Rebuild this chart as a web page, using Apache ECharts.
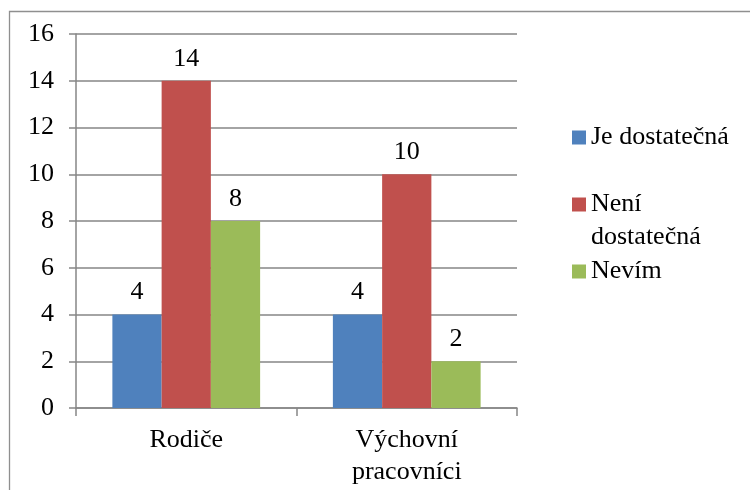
<!DOCTYPE html>
<html>
<head>
<meta charset="utf-8">
<script src="https://cdn.jsdelivr.net/npm/echarts@6/dist/echarts.min.js"></script>
<style>
  html, body { margin: 0; padding: 0; background: #fff; }
  #chart { width: 750px; height: 490px; }
</style>
</head>
<body>
<div id="chart"></div>
<script>
// Categories, series and axis values
const categories = ['Rodiče', 'Výchovní pracovníci'];
const seriesNames = ['Je dostatečná', 'Není dostatečná', 'Nevím'];
const jeDostatecna = [4, 4];
const neniDostatecna = [14, 10];
const nevim = [8, 2];
const yMin = 0;
const yMax = 16;
const yStep = 2;

const colors = ['#4F81BD', '#C0504D', '#9BBB59'];
const fontFamily = '"Liberation Serif", "Times New Roman", serif';
const fontSize = 26;
const axisGray = '#868686';

const chart = echarts.init(document.getElementById('chart'), null, { renderer: 'canvas' });

function barSeries(name, values, color) {
  return {
    name: name,
    type: 'bar',
    data: values,
    barGap: '0%',
    barCategoryGap: '33%',
    itemStyle: { color: color },
    label: {
      show: true,
      position: 'top',
      distance: 9,
      color: '#000',
      fontFamily: fontFamily,
      fontSize: fontSize
    }
  };
}

chart.setOption({
  animation: false,
  backgroundColor: '#fff',
  textStyle: { fontFamily: fontFamily },
  graphic: [{
    type: 'rect',
    shape: { x: 9.5, y: 11.5, width: 800, height: 600 },
    style: { fill: 'none', stroke: '#8f8f8f', lineWidth: 1.3 },
    silent: true
  }],
  grid: { left: 76, right: 233, top: 34, bottom: 82, containLabel: false },
  legend: {
    orient: 'vertical',
    left: 567,
    top: 116,
    padding: 5,
    itemWidth: 14,
    itemHeight: 14,
    itemGap: 1,
    icon: 'rect',
    data: seriesNames,
    formatter: function (name) {
      // second entry wraps onto two lines, with its first line beside the icon
      return name === 'Není dostatečná' ? ' \nNení\ndostatečná' : name;
    },
    textStyle: {
      color: '#000',
      fontFamily: fontFamily,
      fontSize: fontSize,
      lineHeight: 33
    }
  },
  xAxis: {
    type: 'category',
    data: categories,
    axisLine: { show: true, lineStyle: { color: axisGray, width: 1.5 } },
    axisTick: { show: true, length: 8, lineStyle: { color: axisGray, width: 1.5 } },
    axisLabel: {
      color: '#000',
      fontFamily: fontFamily,
      fontSize: fontSize,
      lineHeight: 32,
      margin: 16,
      formatter: function (v) { return v.replace(' ', '\n'); }
    }
  },
  yAxis: {
    type: 'value',
    min: yMin,
    max: yMax,
    interval: yStep,
    axisLine: { show: true, lineStyle: { color: axisGray, width: 1.5 } },
    axisTick: { show: true, length: 7, lineStyle: { color: axisGray, width: 1.5 } },
    splitLine: { show: true, lineStyle: { color: axisGray, width: 1.5 } },
    axisLabel: {
      color: '#000',
      fontFamily: fontFamily,
      fontSize: fontSize,
      margin: 22
    }
  },
  series: [
    barSeries(seriesNames[0], jeDostatecna, colors[0]),
    barSeries(seriesNames[1], neniDostatecna, colors[1]),
    barSeries(seriesNames[2], nevim, colors[2])
  ]
});
</script>
</body>
</html>
